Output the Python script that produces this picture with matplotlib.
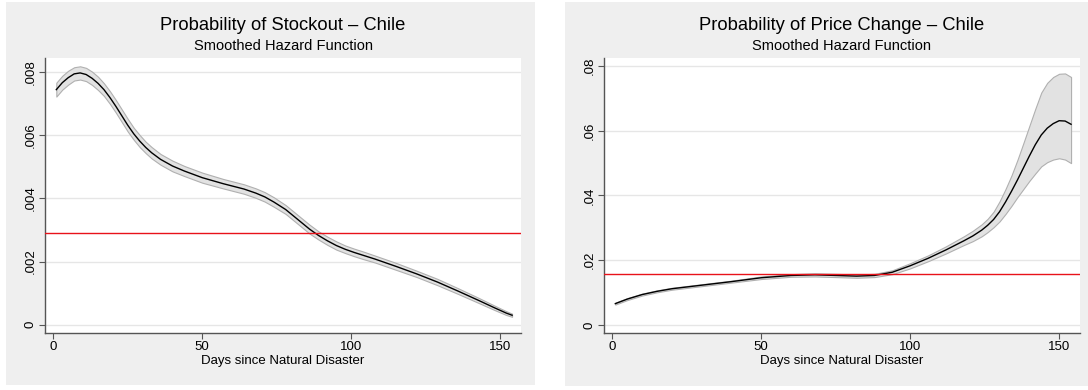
import matplotlib
matplotlib.use("Agg")
import matplotlib.pyplot as plt
from matplotlib.patches import Rectangle


plt.rcParams["font.family"] = ["Liberation Sans", "DejaVu Sans"]

# stockout hazard (left panel)
stock_days = [1, 3, 5, 7, 9, 11, 13, 15, 17, 19, 21, 23, 25, 27, 29, 31,
              33, 36, 40, 44, 50, 57, 64, 68, 71, 74, 78, 82, 86, 89, 92,
              95, 98, 101, 104, 108, 115, 122, 129, 136, 143, 148, 152,
              154]
stock_hazard = [0.00745, 0.00767, 0.00783, 0.00795, 0.00798, 0.00793,
                0.00781, 0.00765, 0.00745, 0.00720, 0.00692, 0.00662,
                0.00632, 0.00605, 0.00582, 0.00562, 0.00545, 0.00524,
                0.00503, 0.00487, 0.00466, 0.00447, 0.00430, 0.00417,
                0.00405, 0.00389, 0.00365, 0.00334, 0.00303, 0.00283,
                0.00266, 0.00251, 0.00239, 0.00229, 0.00220, 0.00208,
                0.00185, 0.00161, 0.00135, 0.00106, 0.00076, 0.00054,
                0.00037, 0.00030]
stock_ci = [0.00022, 0.00022, 0.00022, 0.00021, 0.00021, 0.00021,
            0.00021, 0.00021, 0.00020, 0.00020, 0.00020, 0.00020,
            0.00020, 0.00019, 0.00019, 0.00018, 0.00018, 0.00017,
            0.00017, 0.00016, 0.00016, 0.00015, 0.00015, 0.00015,
            0.00015, 0.00015, 0.00014, 0.00014, 0.00014, 0.00013,
            0.00013, 0.00013, 0.00012, 0.00012, 0.00012, 0.00011,
            0.00011, 0.00010, 0.00010, 0.00009, 0.00008, 0.00007,
            0.00006, 0.00005]
stock_mean = 0.0029

# price change hazard (right panel)
price_days = [1, 5, 10, 15, 20, 30, 40, 50, 60, 68, 75, 82, 88, 94, 100,
              106, 112, 118, 121, 124, 126, 128, 130, 132, 134, 136, 138,
              140, 142, 144, 146, 148, 150, 152, 154]
price_hazard = [0.0066, 0.0080, 0.0094, 0.0104, 0.0112, 0.0123, 0.0134,
                0.0146, 0.0153, 0.0155, 0.0153, 0.0151, 0.0153, 0.0163,
                0.0183, 0.0206, 0.0232, 0.0260, 0.0275, 0.0293, 0.0308,
                0.0326, 0.0350, 0.0380, 0.0413, 0.0448, 0.0485, 0.0522,
                0.0557, 0.0587, 0.0608, 0.0622, 0.0631, 0.0630, 0.0620]
price_lower = [0.0063, 0.0077, 0.0091, 0.0101, 0.0109, 0.0120, 0.0131,
               0.0142, 0.0149, 0.0150, 0.0148, 0.0146, 0.0148, 0.0157,
               0.0175, 0.0197, 0.0221, 0.0247, 0.0259, 0.0274, 0.0287,
               0.0302, 0.0320, 0.0343, 0.0368, 0.0395, 0.0420, 0.0445,
               0.0468, 0.0490, 0.0503, 0.0511, 0.0515, 0.0511, 0.0500]
price_upper = [0.0069, 0.0083, 0.0097, 0.0107, 0.0115, 0.0126, 0.0137,
               0.0150, 0.0157, 0.0160, 0.0158, 0.0156, 0.0158, 0.0169,
               0.0191, 0.0215, 0.0243, 0.0274, 0.0291, 0.0311, 0.0328,
               0.0350, 0.0382, 0.0420, 0.0462, 0.0510, 0.0562, 0.0615,
               0.0668, 0.0718, 0.0748, 0.0766, 0.0776, 0.0777, 0.0766]
price_mean = 0.01566

stock_ticks = [0, 0.002, 0.004, 0.006, 0.008]
stock_labels = ["0", ".002", ".004", ".006", ".008"]
price_ticks = [0, 0.02, 0.04, 0.06, 0.08]
price_labels = ["0", ".02", ".04", ".06", ".08"]
day_ticks = [0, 50, 100, 150]

W, H = 1088, 390
PANEL = "#efefef"
AXIS = "#555555"


def px_rect(x0, y0, x1, y1):
    return Rectangle(
        (x0 / W, 1 - y1 / H),
        (x1 - x0) / W,
        (y1 - y0) / H,
        transform=fig.transFigure,
        facecolor=PANEL,
        edgecolor="none",
        zorder=-10
    )


def hazard_panel(ax, days, hazard, lower, upper, mean, ticks, labels,
                 ylim, title):

    ax.fill_between(
        days, lower, upper,
        facecolor="#e2e2e2",
        edgecolor="#b0b0b0",
        linewidth=0.8,
        zorder=2
    )
    ax.plot(days, hazard, color="black", linewidth=1.0, zorder=3)
    ax.axhline(mean, color="#e8121a", linewidth=1.0, zorder=4)

    ax.set_xlim(-2.8, 157.0)
    ax.set_ylim(*ylim)
    ax.set_xticks(day_ticks)
    ax.set_xticklabels([str(d) for d in day_ticks])
    ax.set_yticks(ticks)
    ax.set_yticklabels(labels, rotation=90, va="center")

    ax.grid(axis="y", color="#e6e6e6", linewidth=1.0, zorder=0)
    ax.set_axisbelow(True)
    for side in ["top", "right"]:
        ax.spines[side].set_visible(False)
    for side in ["left", "bottom"]:
        ax.spines[side].set_color(AXIS)
        ax.spines[side].set_linewidth(1.0)
    ax.tick_params(
        colors=AXIS, labelcolor="black", labelsize=9.5,
        length=4, width=0.8, direction="out", pad=2
    )
    ax.set_xlabel("Days since Natural Disaster", fontsize=9.5, labelpad=1)

    x_mid = (ax.get_position().x0 + ax.get_position().x1) / 2
    fig.text(x_mid, 1 - 25 / H, title, fontsize=13.2,
             ha="center", va="center")
    fig.text(x_mid, 1 - 46 / H, "Smoothed Hazard Function", fontsize=10.5,
             ha="center", va="center")


fig = plt.figure(figsize=(W / 100, H / 100), dpi=100, facecolor="white")
fig.patches.append(px_rect(6, 2, 535, 385))
fig.patches.append(px_rect(565, 2, 1088, 386))

ax1 = fig.add_axes([45 / W, 1 - 333 / H, (521 - 45) / W, (333 - 58) / H])
ax2 = fig.add_axes([604 / W, 1 - 333 / H, (1080 - 604) / W, (333 - 58) / H])

stock_lower = [h - c for h, c in zip(stock_hazard, stock_ci)]
stock_upper = [h + c for h, c in zip(stock_hazard, stock_ci)]

hazard_panel(
    ax1, stock_days, stock_hazard, stock_lower, stock_upper, stock_mean,
    stock_ticks, stock_labels, (-0.000263, 0.008453),
    "Probability of Stockout \u2013 Chile"
)
hazard_panel(
    ax2, price_days, price_hazard, price_lower, price_upper, price_mean,
    price_ticks, price_labels, (-0.00247, 0.08247),
    "Probability of Price Change \u2013 Chile"
)

fig.savefig("out.png", dpi=100)
plt.close(fig)
